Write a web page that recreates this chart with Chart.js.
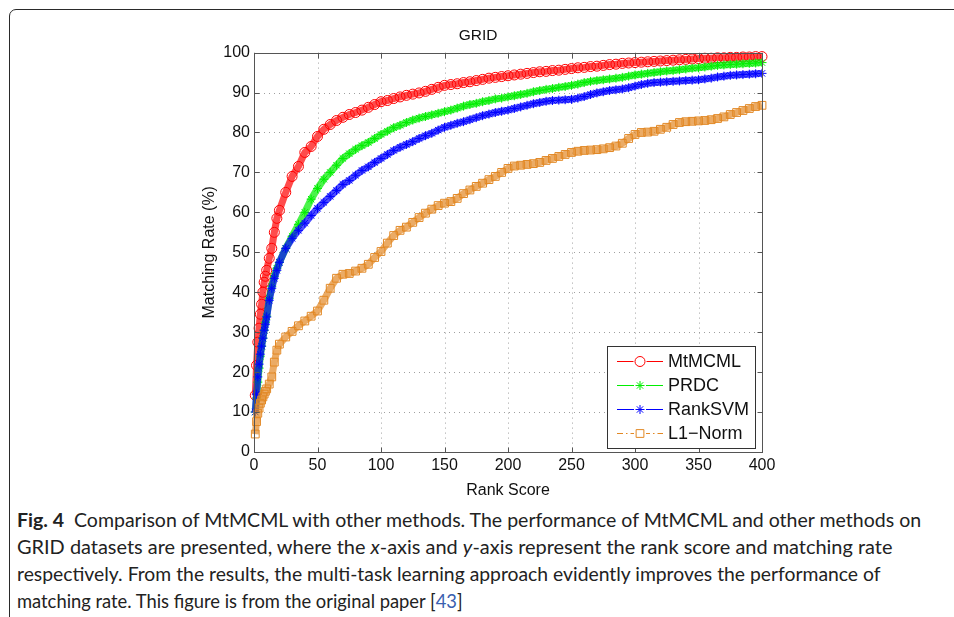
<!DOCTYPE html>
<html>
<head>
<meta charset="utf-8">
<script src="https://cdn.jsdelivr.net/npm/chart.js@4.4.1/dist/chart.umd.min.js"></script>
<style>
  html, body { margin: 0; padding: 0; background: #fff; }
  body { width: 954px; height: 617px; position: relative; overflow: hidden; }
  #frame { position: absolute; left: 9px; top: 9px; width: 1000px; height: 700px;
           border: 1.5px solid #2a2a2a; border-top-left-radius: 7px; }
  #chart { position: absolute; left: 0; top: 0; }
  .cap { position: absolute; left: 17px; font-family: Lato, "Open Sans", sans-serif; font-size: 19.5px;
         line-height: 24px; color: #222; white-space: nowrap; transform-origin: 0 50%; }
  .cap b { font-weight: 700; }
  .ref { color: #3a5fb0; }
</style>
</head>
<body>
<div id="frame"></div>
<canvas id="chart" width="954" height="500"></canvas>
<div class="cap" id="cap1" data-w="904" style="top:508px"><b>Fig. 4</b>&nbsp; Comparison of MtMCML with other methods. The performance of MtMCML and other methods on</div>
<div class="cap" id="cap2" data-w="876" style="top:535px">GRID datasets are presented, where the <i>x</i>-axis and <i>y</i>-axis represent the rank score and matching rate</div>
<div class="cap" id="cap3" data-w="863" style="top:562px">respectively. From the results, the multi-task learning approach evidently improves the performance of</div>
<div class="cap" id="cap4" data-w="446" style="top:589px">matching rate. This figure is from the original paper [<span class="ref">43</span>]</div>
<script>
const RANKS = [1, 2, 3, 4, 5, 6, 7, 8, 9, 10, 12, 14, 16, 18, 20,
  25, 30, 35, 40, 45, 50, 55, 60, 65, 70, 75, 80, 85, 90, 95, 100,
  105, 110, 115, 120, 125, 130, 135, 140, 145, 150, 155, 160, 165, 170, 175, 180, 185, 190, 195, 200,
  205, 210, 215, 220, 225, 230, 235, 240, 245, 250, 255, 260, 265, 270, 275, 280, 285, 290, 295, 300,
  305, 310, 315, 320, 325, 330, 335, 340, 345, 350, 355, 360, 365, 370, 375, 380, 385, 390, 395, 400];

const MTMCML = [14.2, 21.7, 27.5, 31, 34.5, 37, 40, 42.5, 44, 45.5, 48.5, 51, 55, 58.5, 60.5,
  65, 69, 71.5, 75, 76.5, 79, 80.8, 82, 83, 83.8, 84.5, 85, 85.6, 86.3, 87, 87.7,
  88, 88.5, 88.9, 89.3, 89.6, 89.9, 90.3, 90.8, 91.3, 91.8, 92, 92.2, 92.5, 92.7, 93, 93.3, 93.6, 93.8, 94, 94.2,
  94.4, 94.6, 94.8, 95, 95.2, 95.3, 95.5, 95.6, 95.8, 96, 96.2, 96.3, 96.5, 96.6, 96.8, 97, 97.1, 97.3, 97.4, 97.5,
  97.6, 97.7, 97.8, 97.9, 98, 98.1, 98.2, 98.3, 98.4, 98.5, 98.6, 98.6, 98.7, 98.7, 98.8, 98.8, 98.9, 98.9, 99, 99];

const PRDC = [10, 13.5, 17.5, 21, 24, 26.5, 28.5, 30.5, 32.5, 34, 38.5, 41.5, 44, 46, 47.5,
  51, 54, 57, 60, 63.3, 66, 68.3, 70, 71.8, 73.5, 74.7, 75.8, 76.7, 77.5, 78.5, 79.5,
  80.3, 81.2, 81.8, 82.5, 83.1, 83.6, 84, 84.4, 84.8, 85.2, 85.6, 86.1, 86.6, 87, 87.3, 87.7, 88, 88.4, 88.6, 88.9,
  89.2, 89.5, 89.8, 90.2, 90.5, 90.8, 91, 91.3, 91.5, 91.8, 92.1, 92.5, 92.8, 93, 93.2, 93.4, 93.6, 93.8, 94.1, 94.4,
  94.6, 94.8, 95, 95.2, 95.4, 95.5, 95.7, 95.9, 96.1, 96.2, 96.4, 96.6, 96.8, 96.9, 97, 97.1, 97.2, 97.3, 97.4, 97.5];

const RANKSVM = [10, 14.5, 18.8, 22, 24.5, 26.5, 28.5, 30.5, 32, 33.8, 38, 41, 43.5, 45.5, 47.5,
  51, 53.5, 55.5, 57.3, 59.2, 61, 62.5, 64, 65.5, 67, 68, 69.3, 70.5, 71.4, 72.5, 73.5,
  74.5, 75.5, 76.3, 77, 77.7, 78.5, 79.2, 79.8, 80.6, 81.3, 81.8, 82.3, 82.7, 83.2, 83.7, 84.2, 84.6, 85, 85.3, 85.6,
  86, 86.4, 86.8, 87.2, 87.5, 87.8, 88, 88.1, 88.2, 88.3, 88.6, 89, 89.5, 89.9, 90.2, 90.5, 90.7, 90.9, 91.2, 91.6,
  92, 92.3, 92.5, 92.6, 92.7, 92.8, 92.9, 93, 93.1, 93.2, 93.4, 93.6, 93.9, 94.1, 94.3, 94.4, 94.5, 94.6, 94.7, 94.8];

const L1NORM = [4.5, 7.6, 9.7, 11, 12.2, 13, 13.8, 14.5, 15.2, 15.8, 17, 18.8, 22.5, 25.5, 27,
  28.8, 30.2, 31.6, 32.8, 34, 35.3, 38, 41, 43.5, 44.5, 44.7, 45.3, 46, 47, 48.7, 50.2,
  52.3, 54.2, 55.5, 56.3, 57.5, 58.7, 59.8, 60.8, 61.7, 62.3, 62.7, 63.5, 64.7, 65.6, 66.5, 67.3, 68.2, 69, 70, 71,
  71.6, 71.8, 72, 72.2, 72.5, 73, 73.5, 74, 74.5, 75, 75.3, 75.5, 75.6, 75.7, 75.9, 76.2, 76.6, 77.3, 78.5, 79.5,
  80, 80.1, 80.3, 80.8, 81.3, 82, 82.5, 82.7, 82.8, 82.9, 83, 83.2, 83.5, 83.9, 84.5, 85, 85.5, 86, 86.5, 86.8];

const X_TICKS = [0, 50, 100, 150, 200, 250, 300, 350, 400];
const Y_TICKS = [0, 10, 20, 30, 40, 50, 60, 70, 80, 90, 100];

const FONT = '"Liberation Sans", Arial, Helvetica, sans-serif';

function pts(vals) {
  return RANKS.map((r, i) => ({ x: r, y: vals[i] }));
}

// the marker band of the original is drawn as a wide translucent line under the markers
function series(label, vals, rgb, style, radius, legendDash, order) {
  return {
    label: label,
    data: pts(vals),
    borderColor: 'rgba(' + rgb + ',0.7)',
    borderWidth: 7,
    pointStyle: style,
    pointRadius: radius,
    pointBorderColor: 'rgb(' + rgb + ')',
    pointBackgroundColor: 'rgba(0,0,0,0)',
    pointBorderWidth: 1,
    tension: 0,
    clip: false,
    order: order,
    lineColor: 'rgb(' + rgb + ')',
    legendDash: legendDash
  };
}

function marker(ctx, style, x, y, r) {
  ctx.beginPath();
  if (style === 'circle') {
    ctx.arc(x, y, r, 0, Math.PI * 2);
  } else if (style === 'rect') {
    const s = r * Math.SQRT1_2;
    ctx.rect(x - s, y - s, 2 * s, 2 * s);
  } else {
    ctx.moveTo(x - r, y); ctx.lineTo(x + r, y);
    ctx.moveTo(x, y - r); ctx.lineTo(x, y + r);
    const d = r * Math.SQRT1_2;
    ctx.moveTo(x - d, y - d); ctx.lineTo(x + d, y + d);
    ctx.moveTo(x - d, y + d); ctx.lineTo(x + d, y - d);
  }
  ctx.stroke();
}

// dotted grid under the data, box with inward ticks on top of it
const axesBox = {
  id: 'axesBox',
  beforeDatasetsDraw(chart) {
    const { ctx, chartArea: a, scales: { x, y } } = chart;
    ctx.save();
    ctx.strokeStyle = '#a0a0a0';
    ctx.lineWidth = 1;
    ctx.setLineDash([1, 4]);
    X_TICKS.forEach(v => {
      const px = Math.round(x.getPixelForValue(v)) + 0.5;
      ctx.beginPath(); ctx.moveTo(px, a.top); ctx.lineTo(px, a.bottom); ctx.stroke();
    });
    Y_TICKS.forEach(v => {
      const py = Math.round(y.getPixelForValue(v)) + 0.5;
      ctx.beginPath(); ctx.moveTo(a.left, py); ctx.lineTo(a.right, py); ctx.stroke();
    });
    ctx.restore();
  },
  afterDatasetsDraw(chart) {
    const { ctx, chartArea: a, scales: { x, y } } = chart;
    const L = Math.round(a.left) + 0.5, R = Math.round(a.right) + 0.5;
    const T = Math.round(a.top) + 0.5, B = Math.round(a.bottom) + 0.5;
    ctx.save();
    ctx.strokeStyle = '#555';
    ctx.lineWidth = 1;
    ctx.strokeRect(L, T, R - L, B - T);
    ctx.beginPath();
    X_TICKS.forEach(v => {
      const px = Math.round(x.getPixelForValue(v)) + 0.5;
      ctx.moveTo(px, B); ctx.lineTo(px, B - 5);
      ctx.moveTo(px, T); ctx.lineTo(px, T + 5);
    });
    Y_TICKS.forEach(v => {
      const py = Math.round(y.getPixelForValue(v)) + 0.5;
      ctx.moveTo(L, py); ctx.lineTo(L + 5, py);
      ctx.moveTo(R, py); ctx.lineTo(R - 5, py);
    });
    ctx.stroke();
    ctx.restore();
  }
};

// matlab style legend: line + marker + label
const lineLegend = {
  id: 'lineLegend',
  afterDraw(chart) {
    const ctx = chart.ctx;
    const x0 = 607.5, y0 = 346.5, w = 148, h = 102;
    ctx.save();
    ctx.fillStyle = '#fff';
    ctx.fillRect(x0, y0, w, h);
    ctx.strokeStyle = '#333';
    ctx.lineWidth = 1;
    ctx.strokeRect(x0, y0, w, h);
    chart.data.datasets.forEach((ds, i) => {
      const yy = 361.5 + i * 24;
      ctx.strokeStyle = ds.lineColor;
      ctx.lineWidth = 1;
      ctx.setLineDash(ds.legendDash);
      ctx.beginPath(); ctx.moveTo(617, yy); ctx.lineTo(663, yy); ctx.stroke();
      ctx.setLineDash([]);
      ctx.fillStyle = '#fff';
      const c = ds.pointStyle === 'circle' ? 5.5 : 5;
      ctx.fillRect(640 - c - 1, yy - c - 1, 2 * c + 2, 2 * c + 2);
      marker(ctx, ds.pointStyle, 640, yy, ds.pointRadius);
      ctx.fillStyle = '#111';
      ctx.font = '18px ' + FONT;
      ctx.textBaseline = 'middle';
      ctx.textAlign = 'left';
      ctx.fillText(ds.label, 668, yy + 1);
    });
    ctx.restore();
  }
};

new Chart(document.getElementById('chart'), {
  type: 'line',
  data: {
    datasets: [
      series('MtMCML', MTMCML, '255,0,0', 'circle', 5, [], 4),
      series('PRDC', PRDC, '0,238,0', 'star', 4.5, [], 3),
      series('RankSVM', RANKSVM, '0,0,255', 'star', 4.5, [], 2),
      series('L1\u2212Norm', L1NORM, '226,136,36', 'rect', 5.5, [6, 3, 1.5, 3], 1)
    ]
  },
  options: {
    responsive: false,
    animation: false,
    devicePixelRatio: 1,
    layout: { padding: { left: 194, right: 192, top: 0, bottom: 0 } },
    plugins: {
      legend: { display: false },
      tooltip: { enabled: false },
      title: {
        display: true,
        text: 'GRID',
        color: '#111',
        font: { family: FONT, size: 15.5, weight: 'normal' },
        padding: { top: 26, bottom: 8 }
      }
    },
    scales: {
      x: {
        type: 'linear', min: 0, max: 400,
        grid: { display: false, drawTicks: false },
        border: { display: false },
        afterBuildTicks: s => { s.ticks = X_TICKS.map(v => ({ value: v })); },
        afterFit: s => { s.height = 48; },
        ticks: { font: { family: FONT, size: 16 }, color: '#111', padding: 4, maxRotation: 0 },
        title: { display: true, text: 'Rank Score', color: '#111',
                 font: { family: FONT, size: 16 }, padding: { top: 4, bottom: 0 } }
      },
      y: {
        min: 0, max: 100,
        grid: { display: false, drawTicks: false },
        border: { display: false },
        afterBuildTicks: s => { s.ticks = Y_TICKS.map(v => ({ value: v })); },
        afterFit: s => { s.width = 60; },
        ticks: { font: { family: FONT, size: 16 }, color: '#111', padding: 4 },
        title: { display: true, text: 'Matching Rate (%)', color: '#111',
                 font: { family: FONT, size: 16 }, padding: { top: 6, bottom: 0 } }
      }
    }
  },
  plugins: [axesBox, lineLegend]
});

// squeeze each caption line to the width it has in the figure
document.querySelectorAll('.cap').forEach(el => {
  const target = parseFloat(el.dataset.w);
  const s = target / el.offsetWidth;
  el.style.transform = 'scaleX(' + s.toFixed(3) + ')';
});
</script>
</body>
</html>
